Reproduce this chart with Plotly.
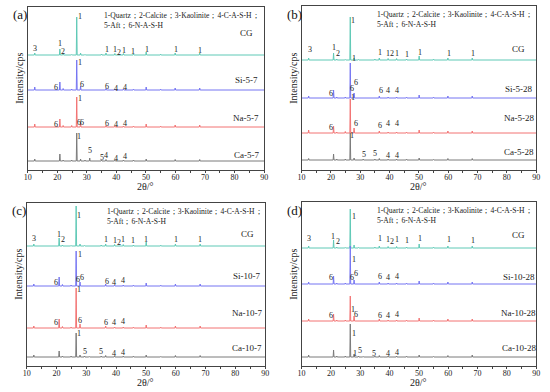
import plotly.graph_objects as go

# ---------------- DATA ----------------
PANELS = ["(a)", "(b)", "(c)", "(d)"]
SAMPLES = [
    ["CG", "Si-5-7", "Na-5-7", "Ca-5-7"],
    ["CG", "Si-5-28", "Na-5-28", "Ca-5-28"],
    ["CG", "Si-10-7", "Na-10-7", "Ca-10-7"],
    ["CG", "Si-10-28", "Na-10-28", "Ca-10-28"],
]
# diffraction peak positions (2θ, degrees)
PEAK_2THETA = [12.4, 20.9, 22.0, 24.9, 26.6, 27.9, 29.4, 31.0, 35.0, 36.5,
               39.5, 42.4, 45.8, 50.1, 55.0, 59.9, 68.2]
# peak intensities above each pattern's baseline (arbitrary units)
INTENSITY = [
    [  # (a)
        [2, 6, 1, 0.5, 38, 2, 0.5, 0, 1, 2, 1.5, 1.5, 1, 3, 0.8, 2, 2],
        [3, 8, 1.5, 1, 30, 4, 0.5, 0, 0.5, 1.5, 1, 1, 0.8, 3, 0.8, 2, 2],
        [3, 8, 1.5, 1.5, 30, 4, 0.5, 0, 0.5, 1.5, 1, 1, 0.8, 3, 0.8, 2, 2],
        [2, 7, 1, 1, 28, 2, 1, 3, 1, 1.5, 1, 1, 1, 2, 0.5, 1.5, 1.5],
    ],
    [  # (b)
        [2, 7, 1, 0.5, 43, 2, 0.5, 0, 1, 2, 1.5, 1.5, 1, 4, 0.8, 2, 2],
        [2, 8, 1, 1, 35, 5, 0.5, 0, 0.5, 2, 1, 1, 0.8, 3, 0.8, 2, 2],
        [3, 7, 1, 1.5, 34, 5, 0.5, 0, 0.5, 2, 1, 1, 0.8, 3, 0.8, 2, 2],
        [1.5, 6, 1, 1, 27, 2, 0.5, 1, 1, 1.5, 1, 1, 0.8, 2, 0.5, 1.5, 1.5],
    ],
    [  # (c)
        [2, 8, 1, 0.5, 40, 2, 0.5, 0, 1, 2, 1.5, 1.5, 1, 4, 0.8, 2, 2],
        [2, 9, 1.5, 1, 35, 4, 0.5, 0, 0.5, 2, 1, 1, 0.8, 3, 0.8, 2, 2],
        [2, 9, 1.5, 1, 40, 4, 0.5, 0, 0.5, 2, 1, 1, 0.8, 3, 0.8, 2, 2],
        [2, 6, 1, 1, 24, 2, 1, 0.5, 1, 1.5, 1, 1, 0.8, 2, 0.5, 1.5, 1.5],
    ],
    [  # (d)
        [2, 8, 1, 0.5, 39, 3, 0.5, 0, 1, 2, 1.5, 1.5, 1, 4, 0.8, 2, 2],
        [2, 8, 1, 1, 38, 4, 0.5, 0, 0.5, 2, 1, 1, 0.8, 3, 0.8, 2, 2],
        [2, 7, 1, 1, 25, 5, 0.5, 0, 0.5, 2, 1, 1, 0.8, 3, 0.8, 2, 2],
        [2, 7, 1, 1, 33, 3, 1, 0.5, 1, 1.5, 1, 1, 0.8, 2, 0.5, 1.5, 2],
    ],
]
# phase labels: (2θ, label, height above baseline)
PHASE_LABELS = [
    [  # (a)
        [(12.6, "3", 7), (21.0, "1", 12), (22.0, "2", 4), (27.8, "1", 39), (36.8, "1", 6),
         (39.7, "1", 6), (40.8, "2", 3), (42.5, "1", 5), (45.8, "1", 4), (50.2, "1", 6),
         (60.2, "1", 6), (68.2, "1", 5)],
        [(19.7, "6", 3), (27.7, "1", 28), (28.4, "6", 6), (37.0, "6", 4), (39.8, "4", 2), (42.8, "4", 3)],
        [(19.7, "6", 3), (27.7, "1", 29), (27.3, "6", 5), (28.4, "6", 5), (36.9, "6", 4), (39.8, "4", 3), (42.8, "4", 4)],
        [(27.5, "1", 25), (31.1, "5", 11), (35.0, "5", 4), (36.6, "4", 6), (39.8, "4", 3), (42.8, "4", 5)],
    ],
    [  # (b)
        [(12.8, "3", 10), (21.2, "1", 12), (22.5, "2", 6), (27.7, "1", 39), (36.9, "1", 7),
         (39.5, "1", 6), (40.8, "2", 6), (42.7, "1", 6), (45.8, "1", 5), (50.3, "1", 7),
         (60.4, "1", 6), (68.4, "1", 6)],
        [(20.1, "6", 4), (27.9, "1", 39), (27.1, "6", 9), (28.7, "6", 15), (37.1, "6", 7), (39.6, "4", 7), (42.7, "4", 7)],
        [(20.1, "6", 5), (27.4, "1", 35), (28.5, "6", 9), (36.9, "6", 7), (39.6, "4", 9), (42.7, "4", 9)],
        [(27.3, "1", 24), (31.2, "5", 5), (35.2, "5", 6), (39.6, "4", 4), (42.7, "4", 4)],
    ],
    [  # (c)
        [(12.6, "3", 8), (20.9, "1", 12), (22.1, "2", 7), (27.6, "1", 31), (36.6, "1", 7),
         (39.6, "1", 6), (40.9, "2", 4), (42.4, "1", 7), (45.6, "1", 6), (50.0, "1", 7),
         (60.0, "1", 7), (68.2, "1", 7)],
        [(19.8, "6", 4), (27.9, "1", 32), (27.2, "6", 7), (28.5, "6", 9), (36.8, "6", 5), (39.3, "4", 4), (42.3, "4", 6)],
        [(19.8, "6", 6), (27.6, "1", 39), (28.0, "6", 8), (36.6, "6", 6), (39.3, "4", 6), (42.3, "4", 7)],
        [(27.6, "1", 24), (29.7, "5", 6), (35.0, "5", 6), (39.3, "4", 4), (42.3, "4", 5)],
    ],
    [  # (d)
        [(12.6, "3", 9), (20.8, "1", 11), (22.3, "2", 6), (27.9, "1", 31), (36.6, "1", 9),
         (39.5, "1", 8), (40.8, "2", 6), (42.7, "1", 8), (45.8, "1", 7), (50.3, "1", 9),
         (60.4, "1", 8), (68.4, "1", 7)],
        [(20.1, "6", 7), (27.8, "1", 25), (27.2, "6", 7), (28.5, "6", 11), (36.9, "6", 8), (39.6, "4", 7), (42.7, "4", 8)],
        [(20.1, "6", 6), (27.5, "1", 12), (28.4, "6", 7), (36.6, "6", 6), (39.6, "4", 6), (42.7, "4", 7)],
        [(27.8, "1", 24), (28.1, "1", 4), (29.9, "5", 7), (34.8, "5", 4), (39.6, "4", 4), (42.7, "4", 5)],
    ],
]
LEGEND_LINE1 = "1-Quartz；2-Calcite；3-Kaolinite；4-C-A-S-H；"
LEGEND_LINE2 = "5-Aft；6-N-A-S-H"
X_TICKS = [10, 20, 30, 40, 50, 60, 70, 80, 90]

# ---------------- LAYOUT / STYLE ----------------
W, H = 550, 392
COLORS = ["#5fc9b6", "#7575f2", "#f27373", "#7a7a7a"]
FONT = "Liberation Serif, Times New Roman, serif"
# panel frames in pixels: (left, right, top, bottom)
FRAMES = [(24, 264, 7, 170), (302, 540, 6, 170), (23, 265, 203, 366), (302, 540, 202, 366)]
PANEL_TOP = [0, 0, 196, 196]
# baselines (px from panel top) and sample-name heights
BASE_PX = [[55, 90, 127, 161], [60, 98, 133, 160], [50, 90, 132, 161], [52, 88, 125, 161]]
NAME_PX = [[33, 80, 118, 155], [49, 89, 118, 152], [38, 80, 117, 152], [39, 81, 117, 152]]
LEGEND_X = [35.1, 35.2, 36.4, 35.2]
HALF_W = 0.15

fig = go.Figure()
annotations = []
layout_axes = {}

for p in range(4):
    l, r, t, b = FRAMES[p]
    sfx = "" if p == 0 else str(p + 1)
    xa, ya = "x" + sfx, "y" + sfx
    y_bottom_local = b - PANEL_TOP[p]
    for s in range(4):
        base = y_bottom_local - BASE_PX[p][s]
        xs, ys = [10.0], [base]
        for pos, h in zip(PEAK_2THETA, INTENSITY[p][s]):
            if h <= 0:
                continue
            xs += [pos - HALF_W, pos, pos + HALF_W]
            ys += [base, base + h, base]
        xs.append(90.0)
        ys.append(base)
        fig.add_trace(go.Scatter(x=xs, y=ys, mode="lines", xaxis=xa, yaxis=ya,
                                 line=dict(color=COLORS[s], width=1), showlegend=False,
                                 hoverinfo="skip"))
        for (pos, txt, off) in PHASE_LABELS[p][s]:
            annotations.append(dict(x=pos, y=base + off, xref=xa, yref=ya, text=txt,
                                    showarrow=False, xanchor="center", yanchor="middle",
                                    font=dict(family=FONT, size=8, color="#222")))
        annotations.append(dict(x=84, y=y_bottom_local - NAME_PX[p][s], xref=xa, yref=ya,
                                text=SAMPLES[p][s], showarrow=False, xanchor="center",
                                yanchor="middle", font=dict(family=FONT, size=9, color="#222")))
    # legend text
    annotations.append(dict(x=LEGEND_X[p], y=y_bottom_local - 15, xref=xa, yref=ya,
                            text=LEGEND_LINE1, showarrow=False, xanchor="left", yanchor="middle",
                            font=dict(family=FONT, size=7.6, color="#222")))
    annotations.append(dict(x=LEGEND_X[p], y=y_bottom_local - 25, xref=xa, yref=ya,
                            text=LEGEND_LINE2, showarrow=False, xanchor="left", yanchor="middle",
                            font=dict(family=FONT, size=7.6, color="#222")))
    # panel label
    annotations.append(dict(x=(l - 17) / W, y=1 - (PANEL_TOP[p] + 15) / H, xref="paper", yref="paper",
                            text=PANELS[p], showarrow=False, xanchor="left", yanchor="middle",
                            font=dict(family=FONT, size=13, color="#111")))
    # axis titles
    annotations.append(dict(x=(l + r) / 2 / W, y=1 - (PANEL_TOP[p] + 186) / H, xref="paper", yref="paper",
                            text="2θ/°", showarrow=False, xanchor="center", yanchor="middle",
                            font=dict(family=FONT, size=10, color="#222")))
    annotations.append(dict(x=(l - 9) / W, y=1 - (PANEL_TOP[p] + 78) / H, xref="paper", yref="paper",
                            text="Intensity/cps", textangle=-90, showarrow=False,
                            xanchor="center", yanchor="middle",
                            font=dict(family=FONT, size=10, color="#222")))

    layout_axes["xaxis" + sfx] = dict(
        domain=[l / W, r / W], anchor=ya, range=[10, 90], tickvals=X_TICKS,
        ticks="outside", ticklen=2, tickwidth=1, tickcolor="#444",
        ticklabelstandoff=-3,
        minor=dict(dtick=5, ticks="outside", ticklen=2, tickcolor="#444"),
        showline=True, linecolor="#444", linewidth=1, mirror=True,
        showgrid=False, zeroline=False,
        tickfont=dict(family=FONT, size=8, color="#222"))
    layout_axes["yaxis" + sfx] = dict(
        domain=[1 - b / H, 1 - t / H], anchor=xa, range=[0, b - t],
        showticklabels=False, ticks="", showline=True, linecolor="#444",
        linewidth=1, mirror=True, showgrid=False, zeroline=False)

fig.update_layout(width=W, height=H, margin=dict(l=0, r=0, t=0, b=0),
                  paper_bgcolor="white", plot_bgcolor="white",
                  annotations=annotations, **layout_axes)
fig.write_html("out.html", config={"displayModeBar": False},
               post_script="document.body.style.margin='0';document.body.style.overflow='hidden';")
